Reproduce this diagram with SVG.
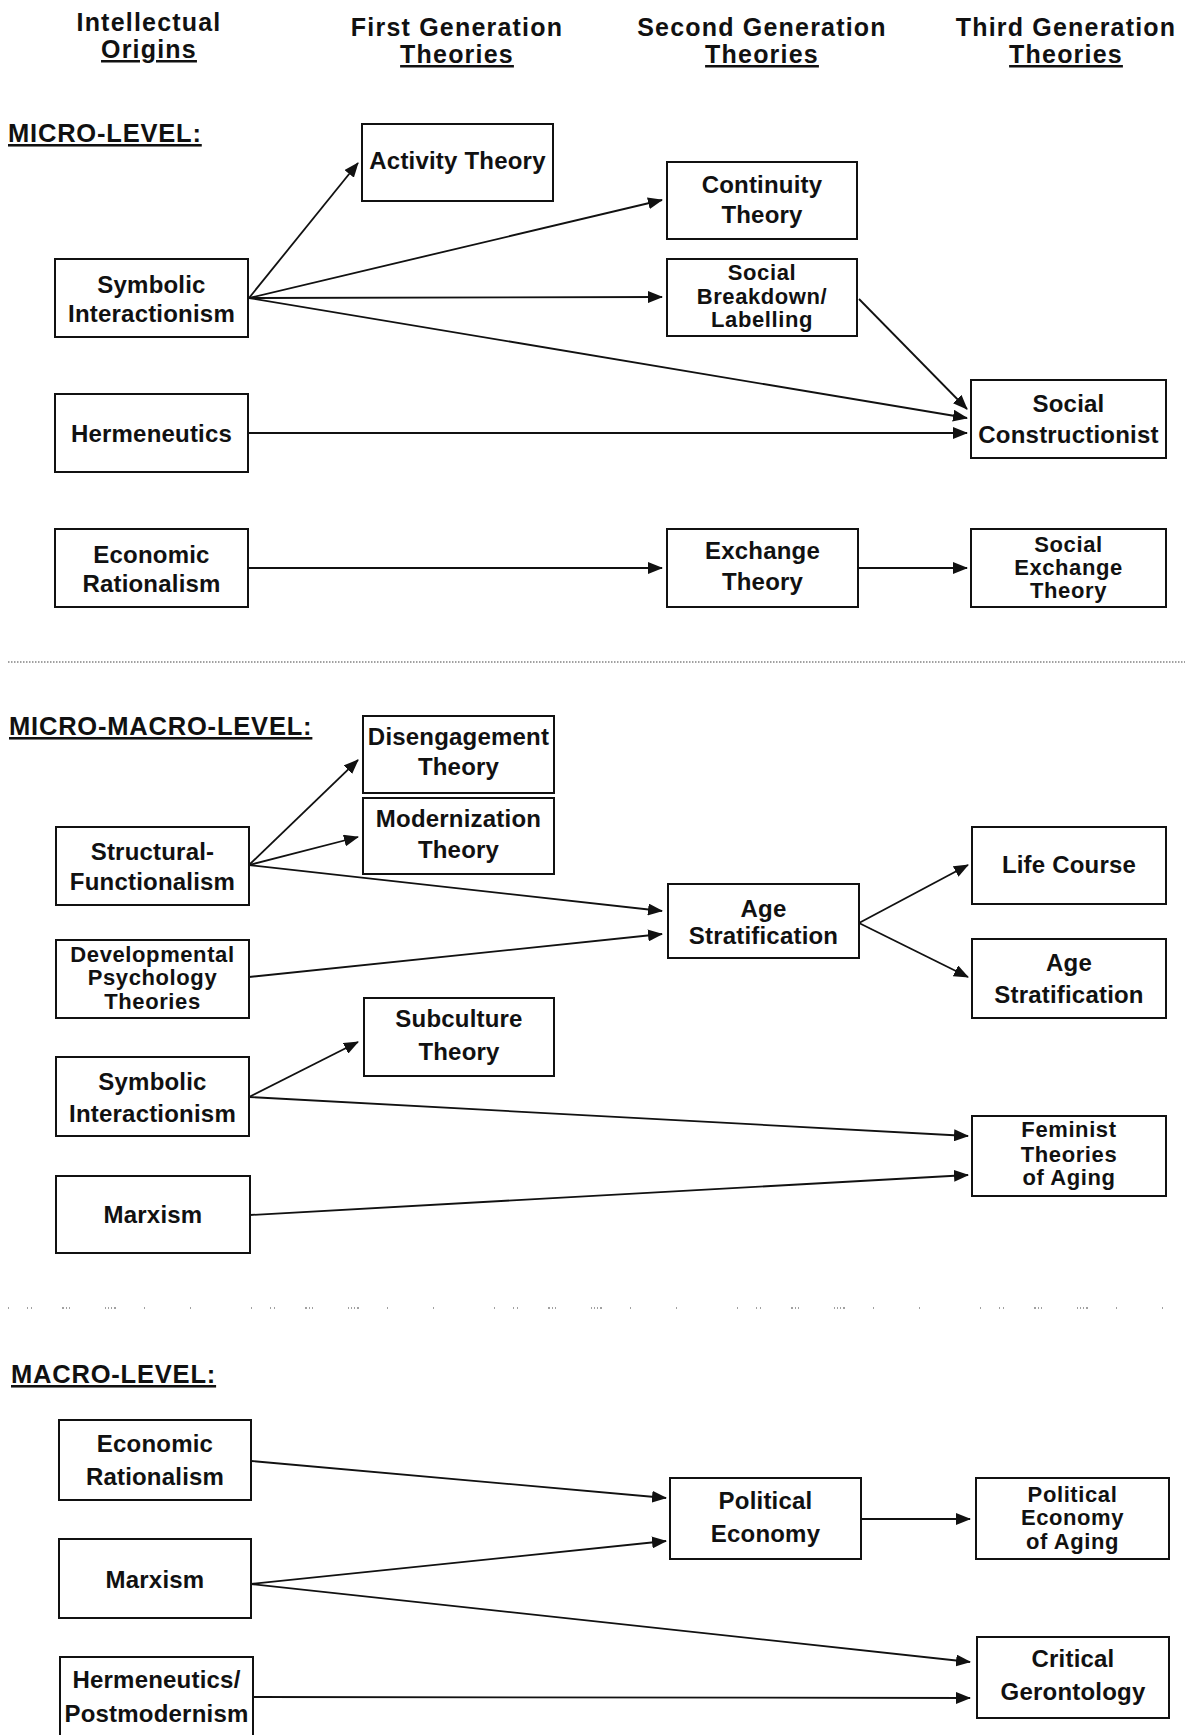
<svg xmlns="http://www.w3.org/2000/svg" width="1185" height="1735" viewBox="0 0 1185 1735">
<style>
  text { font-family: "Liberation Sans", Arial, Helvetica, sans-serif; font-weight: bold; fill: #111; }
  .t { font-size: 24px; letter-spacing: 0.2px; text-anchor: middle; }
  .t3 { font-size: 22px; letter-spacing: 0.6px; }
  .h { font-size: 25px; letter-spacing: 1.2px; text-anchor: middle; }
  .lv { font-size: 25.5px; letter-spacing: 0.8px; text-decoration: underline; }
  .u { text-decoration: underline; }
  rect { fill: #fff; stroke: #111; stroke-width: 2; }
  .c line { stroke: #111; stroke-width: 1.8; }
  .arr { marker-end: url(#ah); }
  .sep { stroke: #444; stroke-width: 1.2; fill: none; }
</style>
<defs>
  <marker id="ah" markerUnits="userSpaceOnUse" markerWidth="15" markerHeight="12" refX="14" refY="6" orient="auto">
    <path d="M0,0 L15,6 L0,12 Z" fill="#111"/>
  </marker>
</defs>
<rect x="0" y="0" width="1185" height="1735" style="fill:#fff;stroke:none"/>

<g id="headers">
  <text class="h" x="149" y="31">Intellectual</text>
  <text class="h u" x="149" y="58">Origins</text>
  <text class="h" x="457" y="36">First Generation</text>
  <text class="h u" x="457" y="63">Theories</text>
  <text class="h" x="762" y="36">Second Generation</text>
  <text class="h u" x="762" y="63">Theories</text>
  <text class="h" x="1066" y="36">Third Generation</text>
  <text class="h u" x="1066" y="63">Theories</text>
  <text class="lv" x="8" y="142">MICRO-LEVEL:</text>
  <text class="lv" x="9" y="735">MICRO-MACRO-LEVEL:</text>
  <text class="lv" x="11" y="1383">MACRO-LEVEL:</text>
</g>

<g id="separators">
  <line class="sep" x1="8" y1="662" x2="1185" y2="662" stroke-dasharray="1.5 1.5"/>
  <line class="sep" x1="8" y1="1308" x2="1167" y2="1308" stroke-dasharray="1 18 1 3 1 30 2 2 1 2 1 35 1 2 1 2 1 2 2 28 1 45 1 60"/>
</g>

<g id="connectors" class="c">
  <line class="arr" x1="249" y1="298" x2="358" y2="163"/>
  <line class="arr" x1="249" y1="298" x2="662" y2="200"/>
  <line class="arr" x1="249" y1="298" x2="662" y2="297"/>
  <line class="arr" x1="249" y1="298" x2="967" y2="418"/>
  <line class="arr" x1="859" y1="299" x2="967" y2="409"/>
  <line class="arr" x1="248" y1="433" x2="967" y2="433"/>
  <line class="arr" x1="248" y1="568" x2="662" y2="568"/>
  <line class="arr" x1="858" y1="568" x2="967" y2="568"/>

  <line class="arr" x1="249" y1="865" x2="358" y2="760"/>
  <line class="arr" x1="249" y1="865" x2="358" y2="837"/>
  <line class="arr" x1="249" y1="865" x2="662" y2="911"/>
  <line class="arr" x1="249" y1="977" x2="662" y2="934"/>
  <line class="arr" x1="859" y1="923" x2="968" y2="865"/>
  <line class="arr" x1="859" y1="923" x2="968" y2="977"/>
  <line class="arr" x1="249" y1="1097" x2="358" y2="1042"/>
  <line class="arr" x1="249" y1="1097" x2="968" y2="1136"/>
  <line class="arr" x1="250" y1="1215" x2="968" y2="1175"/>

  <line class="arr" x1="251" y1="1461" x2="666" y2="1498"/>
  <line class="arr" x1="251" y1="1584" x2="666" y2="1541"/>
  <line class="arr" x1="251" y1="1584" x2="970" y2="1662"/>
  <line class="arr" x1="862" y1="1519" x2="970" y2="1519"/>
  <line class="arr" x1="253" y1="1697" x2="970" y2="1698"/>
</g>

<!-- MICRO-LEVEL nodes -->
<g id="activity-theory">
  <rect x="362" y="124" width="191" height="77"/>
  <text class="t" x="457.5" y="169">Activity Theory</text>
</g>
<g id="symbolic-interactionism-1">
  <rect x="55" y="259" width="193" height="78"/>
  <text class="t" x="151.5" y="293">Symbolic</text>
  <text class="t" x="151.5" y="322">Interactionism</text>
</g>
<g id="continuity-theory">
  <rect x="667" y="162" width="190" height="77"/>
  <text class="t" x="762" y="193">Continuity</text>
  <text class="t" x="762" y="223">Theory</text>
</g>
<g id="social-breakdown">
  <rect x="667" y="259" width="190" height="77"/>
  <text class="t t3" x="762" y="280">Social</text>
  <text class="t t3" x="762" y="304">Breakdown/</text>
  <text class="t t3" x="762" y="327">Labelling</text>
</g>
<g id="social-constructionist">
  <rect x="971" y="380" width="195" height="78"/>
  <text class="t" x="1068.5" y="412">Social</text>
  <text class="t" x="1068.5" y="443">Constructionist</text>
</g>
<g id="hermeneutics">
  <rect x="55" y="394" width="193" height="78"/>
  <text class="t" x="151.5" y="442">Hermeneutics</text>
</g>
<g id="economic-rationalism-1">
  <rect x="55" y="529" width="193" height="78"/>
  <text class="t" x="151.5" y="563">Economic</text>
  <text class="t" x="151.5" y="592">Rationalism</text>
</g>
<g id="exchange-theory">
  <rect x="667" y="529" width="191" height="78"/>
  <text class="t" x="762.5" y="559">Exchange</text>
  <text class="t" x="762.5" y="590">Theory</text>
</g>
<g id="social-exchange-theory">
  <rect x="971" y="529" width="195" height="78"/>
  <text class="t t3" x="1068.5" y="552">Social</text>
  <text class="t t3" x="1068.5" y="575">Exchange</text>
  <text class="t t3" x="1068.5" y="598">Theory</text>
</g>

<!-- MICRO-MACRO-LEVEL nodes -->
<g id="disengagement-theory">
  <rect x="363" y="716" width="191" height="77"/>
  <text class="t" x="458.5" y="745">Disengagement</text>
  <text class="t" x="458.5" y="775">Theory</text>
</g>
<g id="modernization-theory">
  <rect x="363" y="798" width="191" height="76"/>
  <text class="t" x="458.5" y="827">Modernization</text>
  <text class="t" x="458.5" y="858">Theory</text>
</g>
<g id="structural-functionalism">
  <rect x="56" y="827" width="193" height="78"/>
  <text class="t" x="152.5" y="860">Structural-</text>
  <text class="t" x="152.5" y="890">Functionalism</text>
</g>
<g id="developmental-psychology">
  <rect x="56" y="940" width="193" height="78"/>
  <text class="t t3" x="152.5" y="962">Developmental</text>
  <text class="t t3" x="152.5" y="985">Psychology</text>
  <text class="t t3" x="152.5" y="1009">Theories</text>
</g>
<g id="age-stratification-2">
  <rect x="668" y="884" width="191" height="74"/>
  <text class="t" x="763.5" y="917">Age</text>
  <text class="t" x="763.5" y="944">Stratification</text>
</g>
<g id="life-course">
  <rect x="972" y="827" width="194" height="77"/>
  <text class="t" x="1069" y="873">Life Course</text>
</g>
<g id="age-stratification-3">
  <rect x="972" y="939" width="194" height="79"/>
  <text class="t" x="1069" y="971">Age</text>
  <text class="t" x="1069" y="1003">Stratification</text>
</g>
<g id="subculture-theory">
  <rect x="364" y="998" width="190" height="78"/>
  <text class="t" x="459" y="1027">Subculture</text>
  <text class="t" x="459" y="1060">Theory</text>
</g>
<g id="symbolic-interactionism-2">
  <rect x="56" y="1057" width="193" height="79"/>
  <text class="t" x="152.5" y="1090">Symbolic</text>
  <text class="t" x="152.5" y="1122">Interactionism</text>
</g>
<g id="feminist-theories">
  <rect x="972" y="1116" width="194" height="80"/>
  <text class="t t3" x="1069" y="1137">Feminist</text>
  <text class="t t3" x="1069" y="1162">Theories</text>
  <text class="t t3" x="1069" y="1185">of Aging</text>
</g>
<g id="marxism-1">
  <rect x="56" y="1176" width="194" height="77"/>
  <text class="t" x="153" y="1223">Marxism</text>
</g>

<!-- MACRO-LEVEL nodes -->
<g id="economic-rationalism-2">
  <rect x="59" y="1420" width="192" height="80"/>
  <text class="t" x="155" y="1452">Economic</text>
  <text class="t" x="155" y="1485">Rationalism</text>
</g>
<g id="marxism-2">
  <rect x="59" y="1539" width="192" height="79"/>
  <text class="t" x="155" y="1588">Marxism</text>
</g>
<g id="hermeneutics-postmodernism">
  <rect x="60" y="1657" width="193" height="90"/>
  <text class="t" x="156.5" y="1688">Hermeneutics/</text>
  <text class="t" x="156.5" y="1722">Postmodernism</text>
</g>
<g id="political-economy">
  <rect x="670" y="1478" width="191" height="81"/>
  <text class="t" x="765.5" y="1509">Political</text>
  <text class="t" x="765.5" y="1542">Economy</text>
</g>
<g id="political-economy-of-aging">
  <rect x="976" y="1478" width="193" height="81"/>
  <text class="t t3" x="1072.5" y="1502">Political</text>
  <text class="t t3" x="1072.5" y="1525">Economy</text>
  <text class="t t3" x="1072.5" y="1549">of Aging</text>
</g>
<g id="critical-gerontology">
  <rect x="977" y="1637" width="192" height="81"/>
  <text class="t" x="1073" y="1667">Critical</text>
  <text class="t" x="1073" y="1700">Gerontology</text>
</g>
</svg>
